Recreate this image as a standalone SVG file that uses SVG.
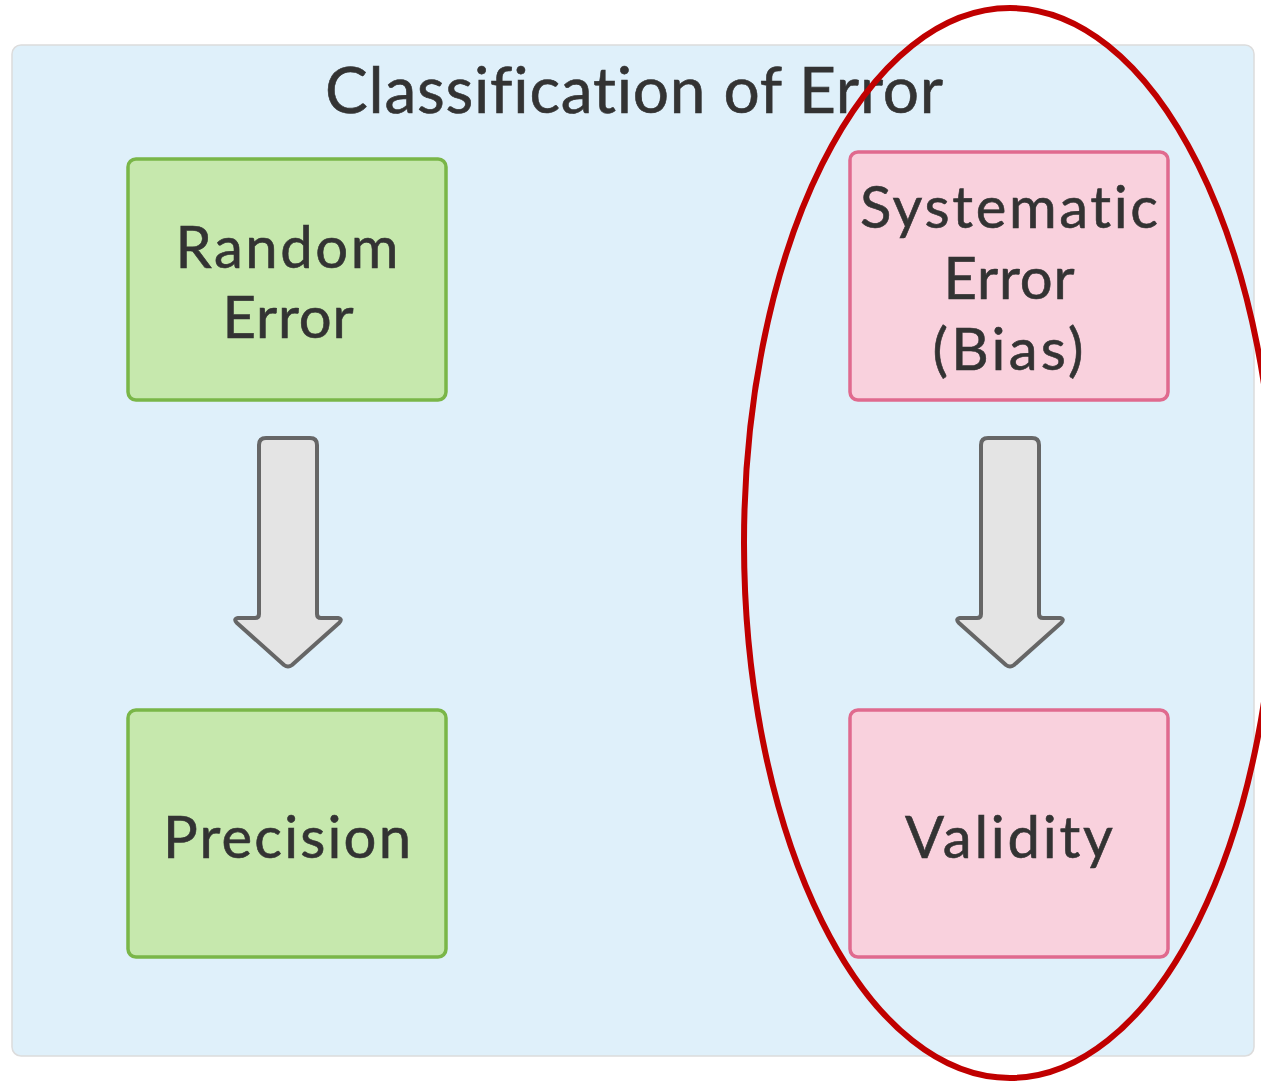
<svg xmlns="http://www.w3.org/2000/svg" width="1261" height="1082" viewBox="0 0 1261 1082">
<style>
text{font-family:Lato,"Noto Sans",sans-serif;fill:#333;stroke:#333;stroke-width:0.6;text-anchor:middle;font-variant-ligatures:none;font-feature-settings:"liga" 0,"clig" 0,"dlig" 0}
.t{font-size:58px}
.g{fill:#c6e8ad;stroke:#7ab648;stroke-width:3.5}
.p{fill:#f9d1dd;stroke:#e06a8e;stroke-width:3.5}
.a{fill:#e4e4e4;stroke:#666;stroke-width:4;stroke-linejoin:round}
</style>
<rect width="1261" height="1082" fill="#fff"/>
<rect id="bg" x="12" y="45" width="1242" height="1011" rx="9" fill="#dff0fa" stroke="#dcdcdc" stroke-width="1.5"/>
<text x="634" y="113" style="font-size:64px" textLength="618">Classification of Error</text>
<g id="random"><rect class="g" x="128" y="159" width="318" height="241" rx="8"/><text class="t" x="287" y="268" textLength="223">Random</text><text class="t" x="288" y="338" textLength="131">Error</text></g>
<g id="precision"><rect class="g" x="128" y="710" width="318" height="247" rx="8"/><text class="t" x="287" y="858" textLength="248">Precision</text></g>
<g id="systematic"><rect class="p" x="850" y="152" width="318" height="248" rx="8"/><text class="t" x="1009" y="228" textLength="298">Systematic</text><text class="t" x="1009" y="299" textLength="131">Error</text><text class="t" x="1008" y="370" textLength="151">(Bias)</text></g>
<g id="validity"><rect class="p" x="850" y="710" width="318" height="247" rx="8"/><text class="t" x="1009" y="858" textLength="208">Validity</text></g>
<g id="connectors">
<path class="a" d="M266 438 H310 Q317 438 317 445 V614 Q317 618 321 618 H338 Q343 619 339 623 L292 665 Q288 668 284 665 L237 623 Q233 619 238 618 H255 Q259 618 259 614 V445 Q259 438 266 438 Z"/>
<path class="a" d="M988 438 H1032 Q1039 438 1039 445 V614 Q1039 618 1043 618 H1060 Q1065 619 1061 623 L1014 665 Q1010 668 1006 665 L959 623 Q955 619 960 618 H977 Q981 618 981 614 V445 Q981 438 988 438 Z"/>
</g>
<ellipse cx="1010" cy="543" rx="266" ry="535" fill="none" stroke="#c00000" stroke-width="6"/>
</svg>
